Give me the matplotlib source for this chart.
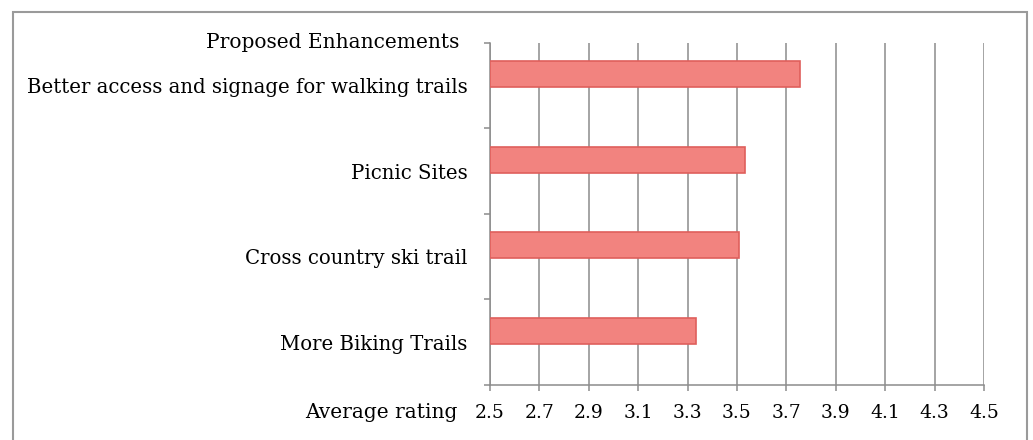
import numpy as np
import matplotlib
matplotlib.use("Agg")
import matplotlib.pyplot as plt
from matplotlib.patches import Rectangle

# chart data
categories = ["Better access and signage for walking trails", "Picnic Sites",
              "Cross country ski trail", "More Biking Trails"]
ratings = [3.757, 3.531, 3.51, 3.334]
x_ticks = [2.5, 2.7, 2.9, 3.1, 3.3, 3.5, 3.7, 3.9, 4.1, 4.3, 4.5]

plt.rcParams['font.family'] = ['DejaVu Serif']

fig = plt.figure(figsize=(10.33, 4.4), dpi=100)
ax = fig.add_axes([0.4743, 0.125, 0.4783, 0.7773])

# outer frame around the chart
fig.patches.append(Rectangle((0.0126, -0.02), 0.9816, 0.9927, transform=fig.transFigure,
                             fill=False, edgecolor='#9a9a9a', linewidth=1.5))

grey = '#8c8c8c'
slots = np.arange(len(categories))
# bars sit a bit above the slot centre (Excel style)
ax.barh(slots + 0.5 - 0.135, [r - 2.5 for r in ratings], left=2.5, height=0.30,
        color='#f2837f', edgecolor='#df5f5c', linewidth=1.2, zorder=3)

ax.set_xlim(2.5, 4.5)
ax.set_ylim(len(categories), 0)
ax.set_xticks(x_ticks)
ax.set_xticklabels([f"{t:.1f}" for t in x_ticks], fontsize=13.5)
ax.grid(axis='x', color=grey, linewidth=1.1, zorder=0)

ax.set_yticks(np.arange(len(categories) + 1))
ax.set_yticklabels([])
ax.set_yticks(slots + 0.5, minor=True)
ax.set_yticklabels(categories, minor=True, fontsize=14.2)
ax.tick_params(axis='y', which='minor', length=0, pad=16)
ax.tick_params(axis='y', which='major', length=4.5, color=grey, width=1.1)
ax.tick_params(axis='x', length=4.5, color=grey, width=1.1, pad=9)

for s in ['top', 'right']:
    ax.spines[s].set_visible(False)
for s in ['left', 'bottom']:
    ax.spines[s].set_color(grey)
    ax.spines[s].set_linewidth(1.1)

ax.text(-0.061, 1.0, "Proposed Enhancements", transform=ax.transAxes,
        ha='right', va='center', fontsize=14.5)
ax.text(-0.065, -0.081, "Average rating", transform=ax.transAxes,
        ha='right', va='center', fontsize=14.5)

fig.savefig("out.png", dpi=100)
